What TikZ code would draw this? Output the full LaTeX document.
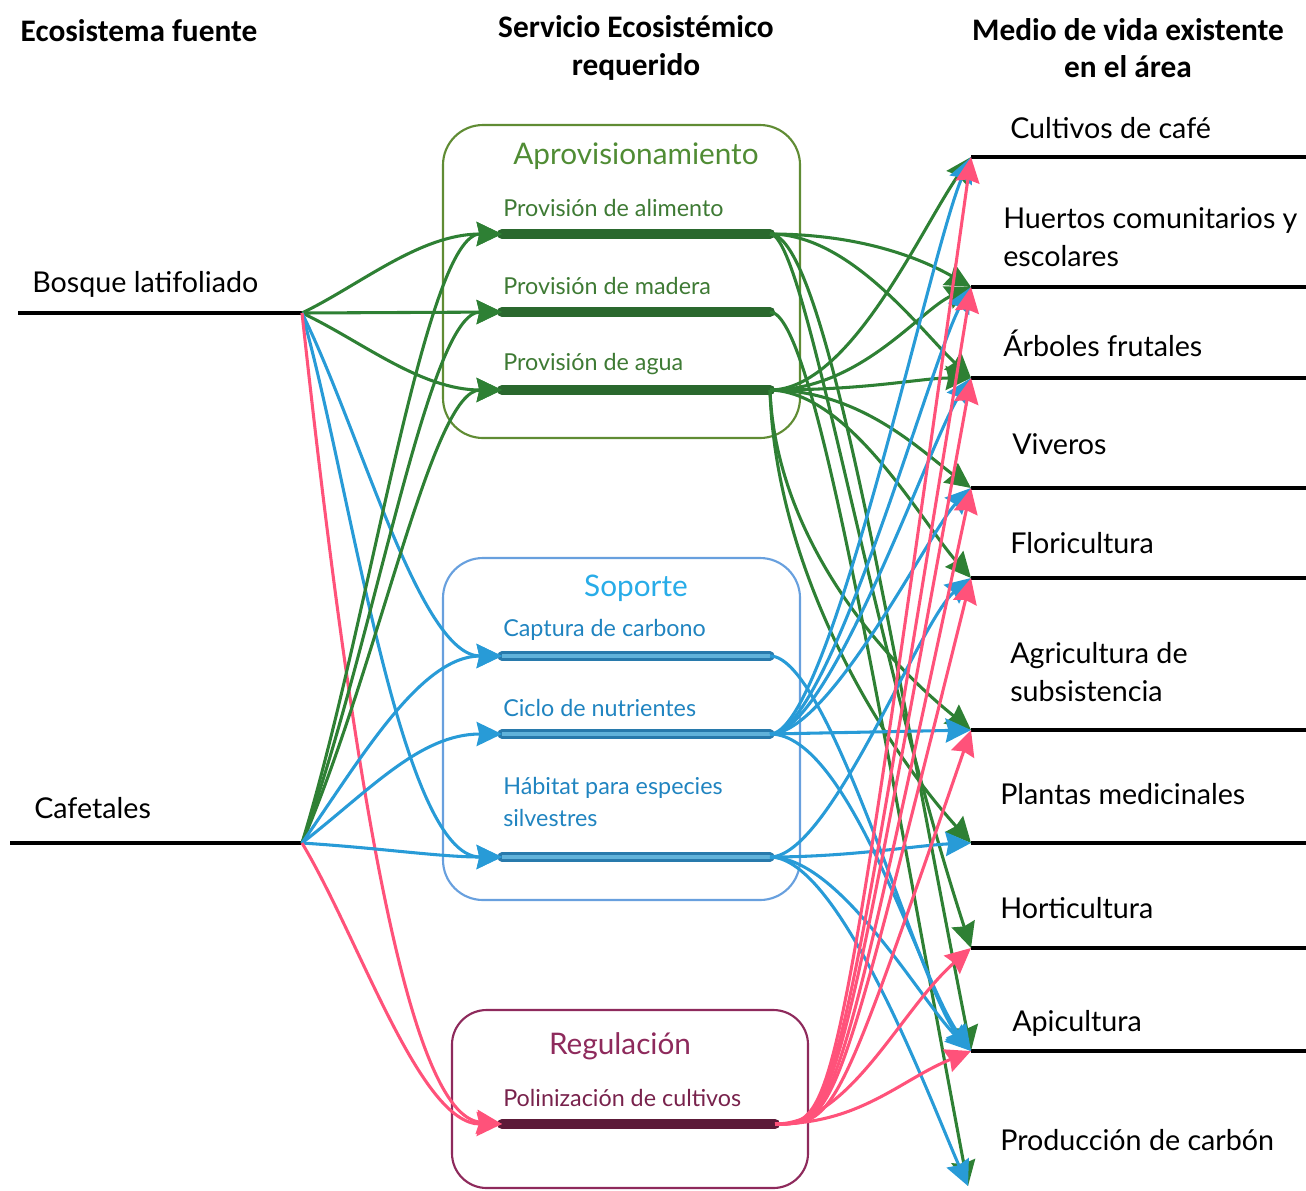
\documentclass[tikz,border=0pt]{standalone}
\usepackage{fontspec}
\setmainfont{Lato}
\newfontfamily\hdfont{Carlito}
\usetikzlibrary{arrows.meta}
\definecolor{gLine}{RGB}{46,128,52}
\definecolor{gBox}{RGB}{96,140,52}
\definecolor{gTitle}{RGB}{80,140,52}
\definecolor{gLab}{RGB}{62,122,52}
\definecolor{gBar}{RGB}{42,104,46}
\definecolor{bLine}{RGB}{40,155,215}
\definecolor{bBox}{RGB}{104,160,222}
\definecolor{bTitle}{RGB}{40,172,232}
\definecolor{bLab}{RGB}{32,132,192}
\definecolor{bBarF}{RGB}{96,178,218}
\definecolor{bBarD}{RGB}{40,122,172}
\definecolor{pLine}{RGB}{255,82,122}
\definecolor{rBox}{RGB}{142,42,92}
\definecolor{rLab}{RGB}{120,34,76}
\definecolor{rBar}{RGB}{92,26,56}
\tikzset{
  tip/.style={-{Stealth[length=19pt,width=18pt,inset=2pt]}},
  gA/.style={tip,draw=gLine,line width=2.3pt},
  bA/.style={tip,draw=bLine,line width=2.3pt},
  pA/.style={tip,draw=pLine,line width=2.3pt},
  hdr/.style={font=\hdfont\bfseries\fontsize{23.5}{28}\selectfont,align=center,inner sep=0pt},
  lab/.style={font=\fontsize{21.5}{28}\selectfont,anchor=west,align=left,inner sep=0pt},
  slab/.style={font=\fontsize{17.5}{23}\selectfont,anchor=west,align=left,inner sep=0pt},
  ttl/.style={font=\fontsize{22.3}{24}\selectfont,inner sep=0pt},
  grp/.style={line width=1.6pt,rounded corners=30pt},
  base/.style={line width=2.8pt,draw=black},
}
\begin{document}
\begin{tikzpicture}[x=0.75pt,y=-0.75pt]
\useasboundingbox (0,0) rectangle (1306,1190);
% headers
\node[hdr] (h1) at (139,31) {Ecosistema fuente};
\node[hdr] (h2) at (636,48) {Servicio Ecosistémico\\requerido};
\node[hdr] (h3) at (1128,48) {Medio de vida existente\\en el área};
% group boxes
\draw[grp,draw=gBox] (443,125) rectangle (800,438);
\draw[grp,draw=bBox] (443,558) rectangle (800,900);
\draw[grp,draw=rBox,rounded corners=26pt] (452,1010) rectangle (808,1188);
\node[ttl,text=gTitle] (tA) at (636,156) {Aprovisionamiento};
\node[ttl,text=bTitle] (tS) at (636,588) {Soporte};
\node[ttl,text=rBox] (tR) at (620,1046) {Regulación};
% service labels
\node[slab,text=gLab] (lal) at (503,208) {Provisión de alimento};
\node[slab,text=gLab] (lma) at (503,286) {Provisión de madera};
\node[slab,text=gLab] (lag) at (503,364) {Provisión de agua};
\node[slab,text=bLab] (lca) at (503,630) {Captura de carbono};
\node[slab,text=bLab] (lci) at (503,708) {Ciclo de nutrientes};
\node[slab,text=bLab,font=\fontsize{17.5}{23.5}\selectfont] (lha) at (503,802) {Hábitat para especies\\silvestres};
\node[slab,text=rLab] (lpo) at (503,1098) {Polinización de cultivos};
% service bars
\coordinate (alimW) at (502,234); \coordinate (alimE) at (770,234);
\coordinate (madW) at (502,312); \coordinate (madE) at (770,312);
\coordinate (aguaW) at (502,390); \coordinate (aguaE) at (770,390);
\coordinate (captW) at (502,656); \coordinate (captE) at (770,656);
\coordinate (cicloW) at (502,734); \coordinate (cicloE) at (770,734);
\coordinate (habW) at (502,857); \coordinate (habE) at (770,857);
\coordinate (poliW) at (502,1124); \coordinate (poliE) at (775,1124);
\foreach \a/\b in {alimW/alimE,madW/madE,aguaW/aguaE}{
  \draw[line width=7.5pt,draw=gBar,line cap=round] (\a) -- (\b);}
\foreach \a/\b in {captW/captE,cicloW/cicloE,habW/habE}{
  \draw[line width=7pt,draw=bBarD,line cap=round] (\a) -- (\b);
  \draw[line width=3.2pt,draw=bBarF] (\a) -- (\b);}
\draw[line width=7.5pt,draw=rBar,line cap=round] (poliW) -- (poliE);
% sources
\coordinate (bosqL) at (18,313); \coordinate (bosque) at (302,313);
\coordinate (cafeL) at (10,843); \coordinate (cafe) at (302,843);
\draw[base] (bosqL) -- (bosque);
\draw[base] (cafeL) -- (cafe);
\node[lab] (lb) at (32,284) {Bosque latifoliado};
\node[lab] (lc) at (34,808) {Cafetales};
% targets
\foreach \n/\y in {tCafe/157,tHuer/287,tArb/378,tViv/488,tFlor/578,tAgri/730,tPlan/843,tHort/948,tApic/1051}{
  \coordinate (\n) at (971,\y);
  \draw[base] (\n) -- (1306,\y);}
\coordinate (tCarb) at (968,1186);
\node[lab] (r1) at (1010,128) {Cultivos de café};
\node[lab] (r2) at (1003,237) {Huertos comunitarios y\\escolares};
\node[lab] (r3) at (1003,343) {Árboles frutales};
\node[lab] (r4) at (1012,444) {Viveros};
\node[lab] (r5) at (1010,543) {Floricultura};
\node[lab] (r6) at (1010,672) {Agricultura de\\subsistencia};
\node[lab] (r7) at (1000,794) {Plantas medicinales};
\node[lab] (r8) at (1000,908) {Horticultura};
\node[lab] (r9) at (1012,1023) {Apicultura};
\node[lab] (r10) at (1000,1140) {Producción de carbón};
% left connections
\draw[gA] (bosque) .. controls (360,285) and (420,234) .. (alimW);
\draw[gA] (bosque) -- (madW);
\draw[gA] (bosque) .. controls (360,340) and (420,390) .. (aguaW);
\draw[bA] (bosque) .. controls (360,430) and (420,656) .. (captW);
\draw[bA] (bosque) .. controls (350,480) and (400,857) .. (habW);
\draw[pA] (bosque) .. controls (355,800) and (410,1116) .. (poliW);
\draw[gA] (cafe) .. controls (370,620) and (425,234) .. (alimW);
\draw[gA] (cafe) .. controls (375,640) and (428,312) .. (madW);
\draw[gA] (cafe) .. controls (380,660) and (432,390) .. (aguaW);
\draw[bA] (cafe) .. controls (360,760) and (420,656) .. (captW);
\draw[bA] (cafe) .. controls (370,790) and (420,734) .. (cicloW);
\draw[bA] (cafe) .. controls (380,848) and (440,857) .. (habW);
\draw[pA] (cafe) .. controls (360,940) and (420,1124) .. (poliW);
% right: green
\draw[gA] (alimE) .. controls (860,234) and (920,258) .. (tHuer);
\draw[gA] (alimE) .. controls (850,234) and (920,330) .. (tArb);
\draw[gA] (alimE) .. controls (805,234) and (865,620) .. (tHort);
\draw[gA] (alimE) .. controls (825,234) and (890,640) .. (tApic);
\draw[gA] (madE) .. controls (815,312) and (880,720) .. (tCarb);
\draw[gA] (aguaE) .. controls (850,390) and (920,230) .. (tCafe);
\draw[gA] (aguaE) .. controls (860,390) and (920,310) .. (tHuer);
\draw[gA] (aguaE) .. controls (870,390) and (920,378) .. (tArb);
\draw[gA] (aguaE) .. controls (860,390) and (920,450) .. (tViv);
\draw[gA] (aguaE) .. controls (850,392) and (920,520) .. (tFlor);
\draw[gA] (aguaE) .. controls (775,520) and (860,640) .. (tAgri);
\draw[gA] (aguaE) .. controls (775,560) and (870,730) .. (tPlan);
% right: blue
\draw[bA] (cicloE) .. controls (830,734) and (930,250) .. (tCafe);
\draw[bA] (cicloE) .. controls (830,734) and (930,360) .. (tHuer);
\draw[bA] (cicloE) .. controls (830,734) and (930,440) .. (tArb);
\draw[bA] (cicloE) .. controls (830,734) and (930,530) .. (tViv);
\draw[bA] (cicloE) -- (tAgri);
\draw[bA] (cicloE) .. controls (850,734) and (920,980) .. (tApic);
\draw[bA] (captE) .. controls (830,656) and (920,990) .. (tApic);
\draw[bA] (habE) .. controls (830,857) and (920,620) .. (tFlor);
\draw[bA] (habE) .. controls (850,857) and (920,845) .. (tPlan);
\draw[bA] (habE) .. controls (840,857) and (920,1000) .. (tApic);
\draw[bA] (habE) .. controls (840,857) and (930,1100) .. (tCarb);
% right: pink
\foreach \t in {tCafe,tHuer,tArb,tViv,tFlor,tAgri}{
  \draw[pA] (poliE) .. controls (835,1124) .. (\t);}
\draw[pA] (poliE) .. controls (850,1124) and (900,1010) .. (tHort);
\draw[pA] (poliE) .. controls (860,1124) and (900,1080) .. (tApic);
\end{tikzpicture}
\end{document}
